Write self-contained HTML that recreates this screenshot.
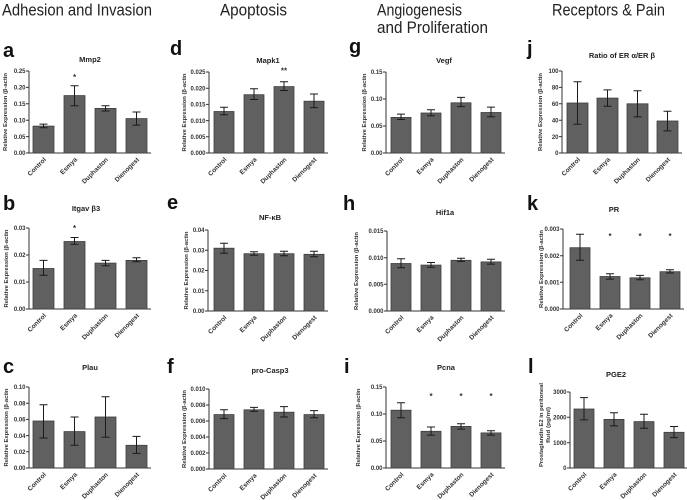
<!DOCTYPE html>
<html><head><meta charset="utf-8"><style>
html,body{margin:0;padding:0;background:#fff;}
svg{display:block;}
.h{font-family:"Liberation Sans",sans-serif;font-size:16.5px;fill:#222;}
.pl{font-family:"Liberation Sans",sans-serif;font-size:20px;font-weight:bold;fill:#111;}
.ti{font-family:"Liberation Sans",sans-serif;font-size:7.5px;font-weight:bold;fill:#222;text-anchor:middle;}
.tk{font-family:"Liberation Sans",sans-serif;font-size:6px;font-weight:bold;fill:#333;text-anchor:end;}
.yl{font-family:"Liberation Sans",sans-serif;font-size:5.5px;font-weight:bold;fill:#333;text-anchor:middle;}
.xl{font-family:"Liberation Sans",sans-serif;font-size:6.5px;font-weight:bold;fill:#333;text-anchor:end;}
.st{font-family:"Liberation Sans",sans-serif;font-size:8px;font-weight:bold;fill:#333;text-anchor:middle;}
.ax{stroke:#333;stroke-width:1;fill:none;}
.bar{fill:#606060;stroke:#3e3e3e;stroke-width:0.8;}
.er{stroke:#1a1a1a;stroke-width:1;fill:none;}
</style></head><body>
<svg width="687" height="500" viewBox="0 0 687 500" xmlns="http://www.w3.org/2000/svg">
<!-- headers -->
<text class="h" x="2" y="15.5" textLength="150" lengthAdjust="spacingAndGlyphs">Adhesion and Invasion</text>
<text class="h" x="220" y="15.5" textLength="67" lengthAdjust="spacingAndGlyphs">Apoptosis</text>
<text class="h" x="377" y="15.5" textLength="85" lengthAdjust="spacingAndGlyphs">Angiogenesis</text>
<text class="h" x="377" y="33" textLength="111" lengthAdjust="spacingAndGlyphs">and Proliferation</text>
<text class="h" x="552" y="15.5" textLength="113" lengthAdjust="spacingAndGlyphs">Receptors &amp; Pain</text>

<!-- panel labels -->
<text class="pl" x="3" y="57">a</text>
<text class="pl" x="170" y="55">d</text>
<text class="pl" x="349" y="53">g</text>
<text class="pl" x="527" y="55">j</text>
<text class="pl" x="3" y="210">b</text>
<text class="pl" x="167" y="209">e</text>
<text class="pl" x="343" y="210">h</text>
<text class="pl" x="527" y="210">k</text>
<text class="pl" x="3" y="373">c</text>
<text class="pl" x="167" y="373">f</text>
<text class="pl" x="344" y="373">i</text>
<text class="pl" x="528" y="373">l</text>

<!-- ===== Panel a ===== -->
<text class="ti" x="90" y="62">Mmp2</text>
<path class="ax" d="M29 71V153H151"/>
<path class="ax" d="M26 153H29M26 136.6H29M26 120.2H29M26 103.8H29M26 87.4H29M26 71H29"/>
<text class="tk" x="25.5" y="155.2">0.00</text>
<text class="tk" x="25.5" y="138.8">0.05</text>
<text class="tk" x="25.5" y="122.4">0.10</text>
<text class="tk" x="25.5" y="106">0.15</text>
<text class="tk" x="25.5" y="89.6">0.20</text>
<text class="tk" x="25.5" y="73.2">0.25</text>
<text class="yl" transform="translate(7 112) rotate(-90)" textLength="78" lengthAdjust="spacingAndGlyphs">Relative Expression (β-actin</text>
<rect class="bar" x="33" y="126.1" width="21" height="26.9"/>
<rect class="bar" x="64" y="95.6" width="21" height="57.4"/>
<rect class="bar" x="95" y="108.4" width="21" height="44.6"/>
<rect class="bar" x="126" y="118.6" width="21" height="34.4"/>
<path class="er" d="M43.5 124.1V127.7M39.5 124.1H47.5M39.5 127.7H47.5"/>
<path class="er" d="M74.5 85.8V105.8M70.5 85.8H78.5M70.5 105.8H78.5"/>
<path class="er" d="M105.5 105.8V111M101.5 105.8H109.5M101.5 111H109.5"/>
<path class="er" d="M136.5 112V125.1M132.5 112H140.5M132.5 125.1H140.5"/>
<text class="st" x="74.5" y="80">*</text>
<text class="xl" transform="translate(46.5 160) rotate(-45)">Control</text>
<text class="xl" transform="translate(77.5 160) rotate(-45)">Esmya</text>
<text class="xl" transform="translate(108.5 160) rotate(-45)">Duphaston</text>
<text class="xl" transform="translate(139.5 160) rotate(-45)">Dienogest</text>

<!-- ===== Panel d ===== -->
<text class="ti" x="268" y="63">Mapk1</text>
<path class="ax" d="M209 72V153H328"/>
<path class="ax" d="M206 153H209M206 136.8H209M206 120.6H209M206 104.4H209M206 88.2H209M206 72H209"/>
<text class="tk" x="205.5" y="155.2">0.000</text>
<text class="tk" x="205.5" y="139">0.005</text>
<text class="tk" x="205.5" y="122.8">0.010</text>
<text class="tk" x="205.5" y="106.6">0.015</text>
<text class="tk" x="205.5" y="90.4">0.020</text>
<text class="tk" x="205.5" y="74.2">0.025</text>
<text class="yl" transform="translate(186 112.5) rotate(-90)" textLength="78" lengthAdjust="spacingAndGlyphs">Relative Expression (β-actin</text>
<rect class="bar" x="214" y="111.5" width="20" height="41.5"/>
<rect class="bar" x="244" y="94.7" width="20" height="58.3"/>
<rect class="bar" x="274" y="86.6" width="20" height="66.4"/>
<rect class="bar" x="304" y="101.2" width="20" height="51.8"/>
<path class="er" d="M224 107.3V114.8M220 107.3H228M220 114.8H228"/>
<path class="er" d="M254 88.8V99.5M250 88.8H258M250 99.5H258"/>
<path class="er" d="M284 81.7V90.5M280 81.7H288M280 90.5H288"/>
<path class="er" d="M314 94V107.6M310 94H318M310 107.6H318"/>
<text class="st" x="284" y="73.5">**</text>
<text class="xl" transform="translate(227 160) rotate(-45)">Control</text>
<text class="xl" transform="translate(257 160) rotate(-45)">Esmya</text>
<text class="xl" transform="translate(287 160) rotate(-45)">Duphaston</text>
<text class="xl" transform="translate(317 160) rotate(-45)">Dienogest</text>

<!-- ===== Panel g ===== -->
<text class="ti" x="444" y="63">Vegf</text>
<path class="ax" d="M386 72V153H505"/>
<path class="ax" d="M383 153H386M383 126H386M383 99H386M383 72H386"/>
<text class="tk" x="382.5" y="155.2">0.00</text>
<text class="tk" x="382.5" y="128.2">0.05</text>
<text class="tk" x="382.5" y="101.2">0.10</text>
<text class="tk" x="382.5" y="74.2">0.15</text>
<text class="yl" transform="translate(366 112.5) rotate(-90)" textLength="78" lengthAdjust="spacingAndGlyphs">Relative Expression (β-actin</text>
<rect class="bar" x="391" y="117.4" width="20" height="35.6"/>
<rect class="bar" x="421" y="113" width="20" height="40"/>
<rect class="bar" x="451" y="102.8" width="20" height="50.2"/>
<rect class="bar" x="481" y="112.5" width="20" height="40.5"/>
<path class="er" d="M401 114.1V119.5M397 114.1H405M397 119.5H405"/>
<path class="er" d="M431 109.8V115.7M427 109.8H435M427 115.7H435"/>
<path class="er" d="M461 97.4V106.6M457 97.4H465M457 106.6H465"/>
<path class="er" d="M491 107.1V116.8M487 107.1H495M487 116.8H495"/>
<text class="xl" transform="translate(404 160) rotate(-45)">Control</text>
<text class="xl" transform="translate(434 160) rotate(-45)">Esmya</text>
<text class="xl" transform="translate(464 160) rotate(-45)">Duphaston</text>
<text class="xl" transform="translate(494 160) rotate(-45)">Dienogest</text>

<!-- ===== Panel j ===== -->
<text class="ti" x="622" y="58">Ratio of ER α/ER β</text>
<path class="ax" d="M562 71V153H682"/>
<path class="ax" d="M559 153H562M559 136.6H562M559 120.2H562M559 103.8H562M559 87.4H562M559 71H562"/>
<text class="tk" x="558.5" y="155.2">0</text>
<text class="tk" x="558.5" y="138.8">20</text>
<text class="tk" x="558.5" y="122.4">40</text>
<text class="tk" x="558.5" y="106">60</text>
<text class="tk" x="558.5" y="89.6">80</text>
<text class="tk" x="558.5" y="73.2">100</text>
<text class="yl" transform="translate(542 112) rotate(-90)" textLength="78" lengthAdjust="spacingAndGlyphs">Relative Expression (β-actin</text>
<rect class="bar" x="567" y="103" width="21" height="50"/>
<rect class="bar" x="597" y="98.1" width="21" height="54.9"/>
<rect class="bar" x="627" y="103.8" width="21" height="49.2"/>
<rect class="bar" x="657" y="121" width="21" height="32"/>
<path class="er" d="M577.5 81.7V124.3M573.5 81.7H581.5M573.5 124.3H581.5"/>
<path class="er" d="M607.5 89.9V106.3M603.5 89.9H611.5M603.5 106.3H611.5"/>
<path class="er" d="M637.5 90.7V116.9M633.5 90.7H641.5M633.5 116.9H641.5"/>
<path class="er" d="M667.5 111.2V130.9M663.5 111.2H671.5M663.5 130.9H671.5"/>
<text class="xl" transform="translate(580.5 160) rotate(-45)">Control</text>
<text class="xl" transform="translate(610.5 160) rotate(-45)">Esmya</text>
<text class="xl" transform="translate(640.5 160) rotate(-45)">Duphaston</text>
<text class="xl" transform="translate(670.5 160) rotate(-45)">Dienogest</text>

<!-- ===== Panel b ===== -->
<text class="ti" x="86" y="211">Itgav β3</text>
<path class="ax" d="M29 228V309H151"/>
<path class="ax" d="M26 309H29M26 282H29M26 255H29M26 228H29"/>
<text class="tk" x="25.5" y="311.2">0.00</text>
<text class="tk" x="25.5" y="284.2">0.01</text>
<text class="tk" x="25.5" y="257.2">0.02</text>
<text class="tk" x="25.5" y="230.2">0.03</text>
<text class="yl" transform="translate(8 268.5) rotate(-90)" textLength="78" lengthAdjust="spacingAndGlyphs">Relative Expression (β-actin</text>
<rect class="bar" x="33" y="268.5" width="21" height="40.5"/>
<rect class="bar" x="64" y="241.5" width="21" height="67.5"/>
<rect class="bar" x="95" y="263.1" width="21" height="45.9"/>
<rect class="bar" x="126" y="260.4" width="21" height="48.6"/>
<path class="er" d="M43.5 260.4V275.3M39.5 260.4H47.5M39.5 275.3H47.5"/>
<path class="er" d="M74.5 237.5V244.2M70.5 237.5H78.5M70.5 244.2H78.5"/>
<path class="er" d="M105.5 260.4V265.8M101.5 260.4H109.5M101.5 265.8H109.5"/>
<path class="er" d="M136.5 257.7V261.8M132.5 257.7H140.5M132.5 261.8H140.5"/>
<text class="st" x="74.5" y="231">*</text>
<text class="xl" transform="translate(46.5 316) rotate(-45)">Control</text>
<text class="xl" transform="translate(77.5 316) rotate(-45)">Esmya</text>
<text class="xl" transform="translate(108.5 316) rotate(-45)">Duphaston</text>
<text class="xl" transform="translate(139.5 316) rotate(-45)">Dienogest</text>

<!-- ===== Panel e ===== -->
<text class="ti" x="270" y="220">NF-κB</text>
<path class="ax" d="M208 230V311H328"/>
<path class="ax" d="M205 311H208M205 290.75H208M205 270.5H208M205 250.25H208M205 230H208"/>
<text class="tk" x="204.5" y="313.2">0.00</text>
<text class="tk" x="204.5" y="293">0.01</text>
<text class="tk" x="204.5" y="272.7">0.02</text>
<text class="tk" x="204.5" y="252.5">0.03</text>
<text class="tk" x="204.5" y="232.2">0.04</text>
<text class="yl" transform="translate(188 270.5) rotate(-90)" textLength="78" lengthAdjust="spacingAndGlyphs">Relative Expression (β-actin</text>
<rect class="bar" x="214" y="248.2" width="20" height="62.8"/>
<rect class="bar" x="244" y="253.7" width="20" height="57.3"/>
<rect class="bar" x="274" y="253.7" width="20" height="57.3"/>
<rect class="bar" x="304" y="254.3" width="20" height="56.7"/>
<path class="er" d="M224 243.2V253.3M220 243.2H228M220 253.3H228"/>
<path class="er" d="M254 251.7V255.3M250 251.7H258M250 255.3H258"/>
<path class="er" d="M284 251.3V255.7M280 251.3H288M280 255.7H288"/>
<path class="er" d="M314 251.3V256.7M310 251.3H318M310 256.7H318"/>
<text class="xl" transform="translate(227 318) rotate(-45)">Control</text>
<text class="xl" transform="translate(257 318) rotate(-45)">Esmya</text>
<text class="xl" transform="translate(287 318) rotate(-45)">Duphaston</text>
<text class="xl" transform="translate(317 318) rotate(-45)">Dienogest</text>

<!-- ===== Panel h ===== -->
<text class="ti" x="445" y="215">Hif1a</text>
<path class="ax" d="M387 231V311H505"/>
<path class="ax" d="M384 311H387M384 284.3H387M384 257.7H387M384 231H387"/>
<text class="tk" x="383.5" y="313.2">0.000</text>
<text class="tk" x="383.5" y="286.5">0.005</text>
<text class="tk" x="383.5" y="259.9">0.010</text>
<text class="tk" x="383.5" y="233.2">0.015</text>
<text class="yl" transform="translate(358 271) rotate(-90)" textLength="78" lengthAdjust="spacingAndGlyphs">Relative Expression (β-actin</text>
<rect class="bar" x="391" y="263.5" width="20" height="47.5"/>
<rect class="bar" x="421" y="265.1" width="20" height="45.9"/>
<rect class="bar" x="451" y="260.3" width="20" height="50.7"/>
<rect class="bar" x="481" y="261.9" width="20" height="49.1"/>
<path class="er" d="M401 258.7V267.8M397 258.7H405M397 267.8H405"/>
<path class="er" d="M431 262.5V267.3M427 262.5H435M427 267.3H435"/>
<path class="er" d="M461 258.2V261.4M457 258.2H465M457 261.4H465"/>
<path class="er" d="M491 259.3V264.1M487 259.3H495M487 264.1H495"/>
<text class="xl" transform="translate(404 318) rotate(-45)">Control</text>
<text class="xl" transform="translate(434 318) rotate(-45)">Esmya</text>
<text class="xl" transform="translate(464 318) rotate(-45)">Duphaston</text>
<text class="xl" transform="translate(494 318) rotate(-45)">Dienogest</text>

<!-- ===== Panel k ===== -->
<text class="ti" x="614" y="212">PR</text>
<path class="ax" d="M563 229V309H684"/>
<path class="ax" d="M560 309H563M560 282.3H563M560 255.7H563M560 229H563"/>
<text class="tk" x="559.5" y="311.2">0.000</text>
<text class="tk" x="559.5" y="284.5">0.001</text>
<text class="tk" x="559.5" y="257.9">0.002</text>
<text class="tk" x="559.5" y="231.2">0.003</text>
<text class="yl" transform="translate(543 269) rotate(-90)" textLength="78" lengthAdjust="spacingAndGlyphs">Relative Expression (β-actin</text>
<rect class="bar" x="570" y="247.7" width="20" height="61.3"/>
<rect class="bar" x="600" y="276.5" width="20" height="32.5"/>
<rect class="bar" x="630" y="277.8" width="20" height="31.2"/>
<rect class="bar" x="660" y="271.7" width="20" height="37.3"/>
<path class="er" d="M580 234.3V260.2M576 234.3H584M576 260.2H584"/>
<path class="er" d="M610 273.8V279.1M606 273.8H614M606 279.1H614"/>
<path class="er" d="M640 275.4V279.7M636 275.4H644M636 279.7H644"/>
<path class="er" d="M670 269.8V273M666 269.8H674M666 273H674"/>
<text class="st" x="610" y="239">*</text>
<text class="st" x="640" y="239">*</text>
<text class="st" x="670" y="239">*</text>
<text class="xl" transform="translate(583 316) rotate(-45)">Control</text>
<text class="xl" transform="translate(613 316) rotate(-45)">Esmya</text>
<text class="xl" transform="translate(643 316) rotate(-45)">Duphaston</text>
<text class="xl" transform="translate(673 316) rotate(-45)">Dienogest</text>

<!-- ===== Panel c ===== -->
<text class="ti" x="90" y="370">Plau</text>
<path class="ax" d="M29 387V468H151"/>
<path class="ax" d="M26 468H29M26 451.8H29M26 435.6H29M26 419.4H29M26 403.2H29M26 387H29"/>
<text class="tk" x="25.5" y="470.2">0.00</text>
<text class="tk" x="25.5" y="454">0.02</text>
<text class="tk" x="25.5" y="437.8">0.04</text>
<text class="tk" x="25.5" y="421.6">0.06</text>
<text class="tk" x="25.5" y="405.4">0.08</text>
<text class="tk" x="25.5" y="389.2">0.10</text>
<text class="yl" transform="translate(8 427.5) rotate(-90)" textLength="78" lengthAdjust="spacingAndGlyphs">Relative Expression (β-actin</text>
<rect class="bar" x="33" y="421" width="21" height="47"/>
<rect class="bar" x="64" y="431.6" width="21" height="36.4"/>
<rect class="bar" x="95" y="417" width="21" height="51"/>
<rect class="bar" x="126" y="445.3" width="21" height="22.7"/>
<path class="er" d="M43.5 404.8V438M39.5 404.8H47.5M39.5 438H47.5"/>
<path class="er" d="M74.5 417V445.3M70.5 417H78.5M70.5 445.3H78.5"/>
<path class="er" d="M105.5 396.7V437.2M101.5 396.7H109.5M101.5 437.2H109.5"/>
<path class="er" d="M136.5 436.4V453.4M132.5 436.4H140.5M132.5 453.4H140.5"/>
<text class="xl" transform="translate(46.5 475) rotate(-45)">Control</text>
<text class="xl" transform="translate(77.5 475) rotate(-45)">Esmya</text>
<text class="xl" transform="translate(108.5 475) rotate(-45)">Duphaston</text>
<text class="xl" transform="translate(139.5 475) rotate(-45)">Dienogest</text>

<!-- ===== Panel f ===== -->
<text class="ti" x="270" y="373">pro-Casp3</text>
<path class="ax" d="M209 389V469H328"/>
<path class="ax" d="M206 469H209M206 453H209M206 437H209M206 421H209M206 405H209M206 389H209"/>
<text class="tk" x="205.5" y="471.2">0.000</text>
<text class="tk" x="205.5" y="455.2">0.002</text>
<text class="tk" x="205.5" y="439.2">0.004</text>
<text class="tk" x="205.5" y="423.2">0.006</text>
<text class="tk" x="205.5" y="407.2">0.008</text>
<text class="tk" x="205.5" y="391.2">0.010</text>
<text class="yl" transform="translate(186 429) rotate(-90)" textLength="78" lengthAdjust="spacingAndGlyphs">Relative Expression (β-actin</text>
<rect class="bar" x="214" y="414.6" width="20" height="54.4"/>
<rect class="bar" x="244" y="409.8" width="20" height="59.2"/>
<rect class="bar" x="274" y="412.2" width="20" height="56.8"/>
<rect class="bar" x="304" y="414.6" width="20" height="54.4"/>
<path class="er" d="M224 409.8V418.6M220 409.8H228M220 418.6H228"/>
<path class="er" d="M254 407.4V411.4M250 407.4H258M250 411.4H258"/>
<path class="er" d="M284 406.6V417M280 406.6H288M280 417H288"/>
<path class="er" d="M314 410.6V417.8M310 410.6H318M310 417.8H318"/>
<text class="xl" transform="translate(227 476) rotate(-45)">Control</text>
<text class="xl" transform="translate(257 476) rotate(-45)">Esmya</text>
<text class="xl" transform="translate(287 476) rotate(-45)">Duphaston</text>
<text class="xl" transform="translate(317 476) rotate(-45)">Dienogest</text>

<!-- ===== Panel i ===== -->
<text class="ti" x="446" y="370">Pcna</text>
<path class="ax" d="M386 387V468H505"/>
<path class="ax" d="M383 468H386M383 441H386M383 414H386M383 387H386"/>
<text class="tk" x="382.5" y="470.2">0.00</text>
<text class="tk" x="382.5" y="443.2">0.05</text>
<text class="tk" x="382.5" y="416.2">0.10</text>
<text class="tk" x="382.5" y="389.2">0.15</text>
<text class="yl" transform="translate(360 427.5) rotate(-90)" textLength="78" lengthAdjust="spacingAndGlyphs">Relative Expression (β-actin</text>
<rect class="bar" x="391" y="410.2" width="20" height="57.8"/>
<rect class="bar" x="421" y="431.3" width="20" height="36.7"/>
<rect class="bar" x="451" y="426.4" width="20" height="41.6"/>
<rect class="bar" x="481" y="432.9" width="20" height="35.1"/>
<path class="er" d="M401 402.7V417.8M397 402.7H405M397 417.8H405"/>
<path class="er" d="M431 427V435.1M427 427H435M427 435.1H435"/>
<path class="er" d="M461 423.7V429.1M457 423.7H465M457 429.1H465"/>
<path class="er" d="M491 430.7V435.1M487 430.7H495M487 435.1H495"/>
<text class="st" x="431" y="399">*</text>
<text class="st" x="461" y="399">*</text>
<text class="st" x="491" y="399">*</text>
<text class="xl" transform="translate(404 475) rotate(-45)">Control</text>
<text class="xl" transform="translate(434 475) rotate(-45)">Esmya</text>
<text class="xl" transform="translate(464 475) rotate(-45)">Duphaston</text>
<text class="xl" transform="translate(494 475) rotate(-45)">Dienogest</text>

<!-- ===== Panel l ===== -->
<text class="ti" x="616" y="377">PGE2</text>
<path class="ax" d="M570 392V468H687"/>
<path class="ax" d="M567 468H570M567 442.7H570M567 417.3H570M567 392H570"/>
<text class="tk" x="566.5" y="470.2">0</text>
<text class="tk" x="566.5" y="444.9">1000</text>
<text class="tk" x="566.5" y="419.5">2000</text>
<text class="tk" x="566.5" y="394.2">3000</text>
<text class="yl" transform="translate(543 425) rotate(-90)" textLength="84" lengthAdjust="spacingAndGlyphs">Prostaglandin E2 in peritoneal</text>
<text class="yl" transform="translate(550 425) rotate(-90)" textLength="36" lengthAdjust="spacingAndGlyphs">fluid (pg/ml)</text>
<rect class="bar" x="574" y="409" width="20" height="59"/>
<rect class="bar" x="604" y="419.4" width="20" height="48.6"/>
<rect class="bar" x="634" y="421.6" width="20" height="46.4"/>
<rect class="bar" x="664" y="432.3" width="20" height="35.7"/>
<path class="er" d="M584 397.6V419.9M580 397.6H588M580 419.9H588"/>
<path class="er" d="M614 412.8V425.9M610 412.8H618M610 425.9H618"/>
<path class="er" d="M644 414.3V428.2M640 414.3H648M640 428.2H648"/>
<path class="er" d="M674 426.5V437.6M670 426.5H678M670 437.6H678"/>
<text class="xl" transform="translate(587 475) rotate(-45)">Control</text>
<text class="xl" transform="translate(617 475) rotate(-45)">Esmya</text>
<text class="xl" transform="translate(647 475) rotate(-45)">Duphaston</text>
<text class="xl" transform="translate(677 475) rotate(-45)">Dienogest</text>
</svg>
</body></html>
